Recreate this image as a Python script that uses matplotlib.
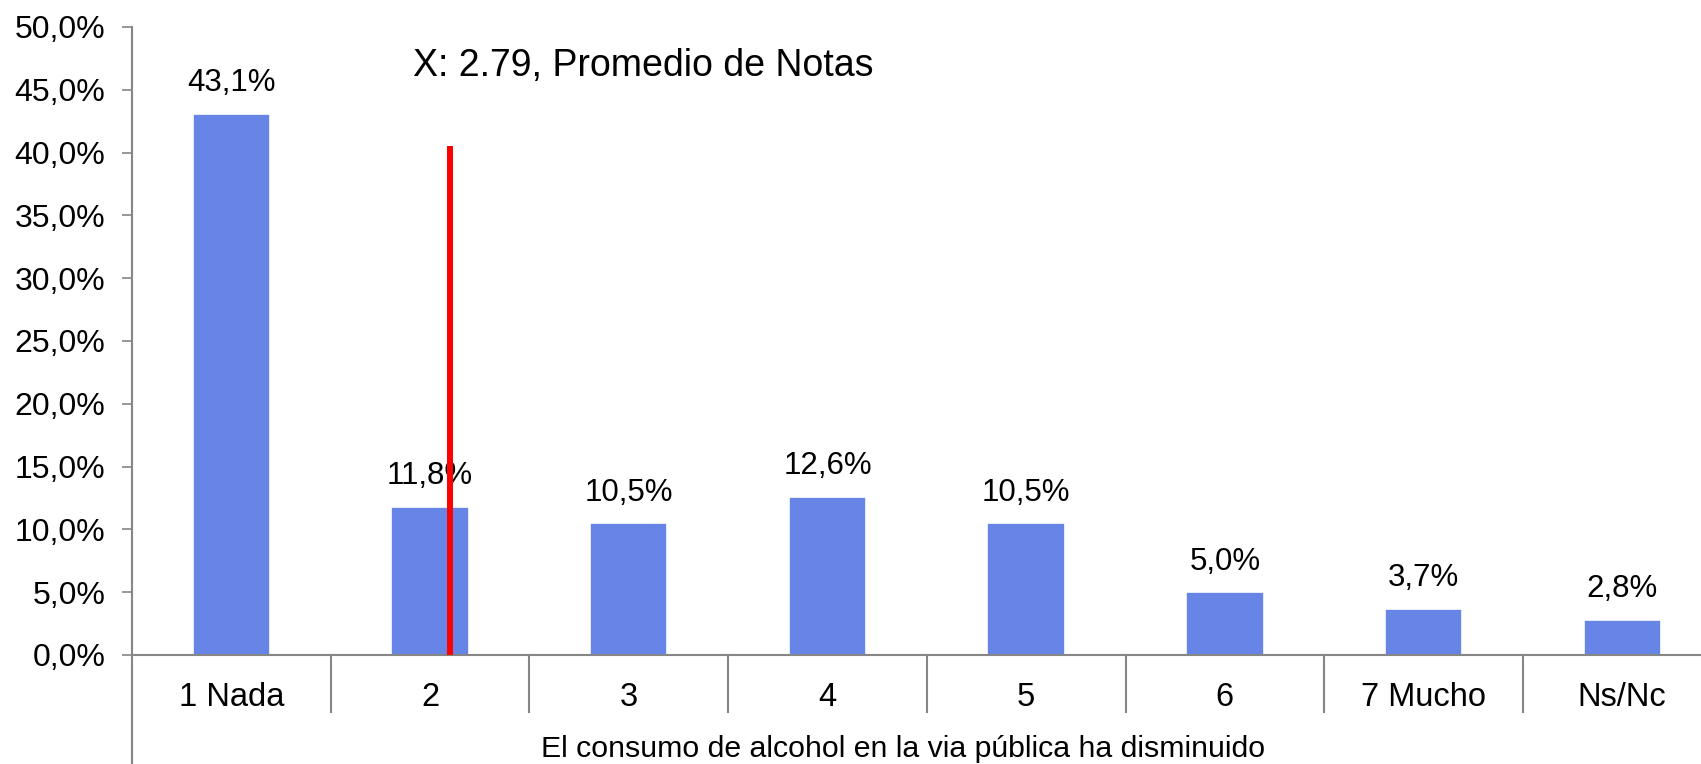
import numpy as np
import matplotlib.pyplot as plt
from matplotlib import transforms
from matplotlib import font_manager

plt.rcParams['font.family'] = ['Liberation Sans', 'DejaVu Sans']

categories = ['1 Nada', '2', '3', '4', '5', '6', '7 Mucho', 'Ns/Nc']
percentages = [43.1, 11.8, 10.5, 12.6, 10.5, 5.0, 3.7, 2.8]
mean_value = 2.79
mean_x = 1.10        # where the red marker sits on the category axis
mean_top = 40.5
title = 'X: 2.79, Promedio de Notas'
xlabel = 'El consumo de alcohol en la via pública ha disminuido'
yticks = np.arange(0, 55, 5)

bar_color = '#6785E6'
axis_color = '#868686'

# the axis title in the original is set in a narrow face
names = {f.name for f in font_manager.fontManager.ttflist}
if 'Liberation Sans Narrow' in names:
    xlabel_font, xlabel_size = ['Liberation Sans Narrow', 'DejaVu Sans'], 26
else:
    xlabel_font, xlabel_size = ['Liberation Sans', 'DejaVu Sans'], 21.8

W, H = 1701, 764
fig = plt.figure(figsize=(W / 100, H / 100), dpi=100)
left, bottom, top = 132 / W, (H - 655) / H, (H - 27) / H
width = 8 * 198.7 / W
ax = fig.add_axes([left, bottom, width, top - bottom])

x = np.arange(len(categories))
ax.bar(x, percentages, width=0.39, color=bar_color, edgecolor='white',
       linewidth=1.2, zorder=2)
for xi, v in zip(x, percentages):
    ax.annotate(f'{v:.1f}%'.replace('.', ','), (xi, v), xytext=(0, 22),
                textcoords='offset points', ha='center', va='center',
                fontsize=22.5, color='black')

ax.vlines(mean_x, 0, mean_top, color='#FF0000', linewidth=4.3, zorder=3)

ax.set_xlim(-0.5, len(categories) - 0.5)
ax.set_ylim(0, 50)
ax.set_yticks(yticks)
ax.set_yticklabels([f'{t:.1f}%'.replace('.', ',') for t in yticks], fontsize=23)
ax.tick_params(axis='y', direction='out', length=7.2, width=1.2,
               color=axis_color, pad=12)
ax.set_xticks([])

for s in ['top', 'right']:
    ax.spines[s].set_visible(False)
for s in ['left', 'bottom']:
    ax.spines[s].set_color(axis_color)
    ax.spines[s].set_linewidth(1.5)

# category table below the axis
trans = transforms.blended_transform_factory(ax.transData, ax.transAxes)
ax_h = (655 - 27)
for xs in np.arange(0.5, len(categories) - 0.5):
    ax.plot([xs, xs], [0, -57 / ax_h], transform=trans, color=axis_color,
            linewidth=1.5, clip_on=False)
ax.plot([-0.5, -0.5], [0, -655 / ax_h], transform=trans, color=axis_color,
        linewidth=1.5, clip_on=False)
for xi, c in zip(x, categories):
    ax.text(xi, -42 / ax_h, c, transform=trans, ha='center', va='center',
            fontsize=23.5)

fig.text(413 / W, 1 - 66 / H, title, ha='left', va='center', fontsize=27)
fig.text(903 / W, 1 / H, xlabel, ha='center', va='bottom',
         fontsize=xlabel_size, family=xlabel_font)

fig.savefig('out.png', dpi=100)
